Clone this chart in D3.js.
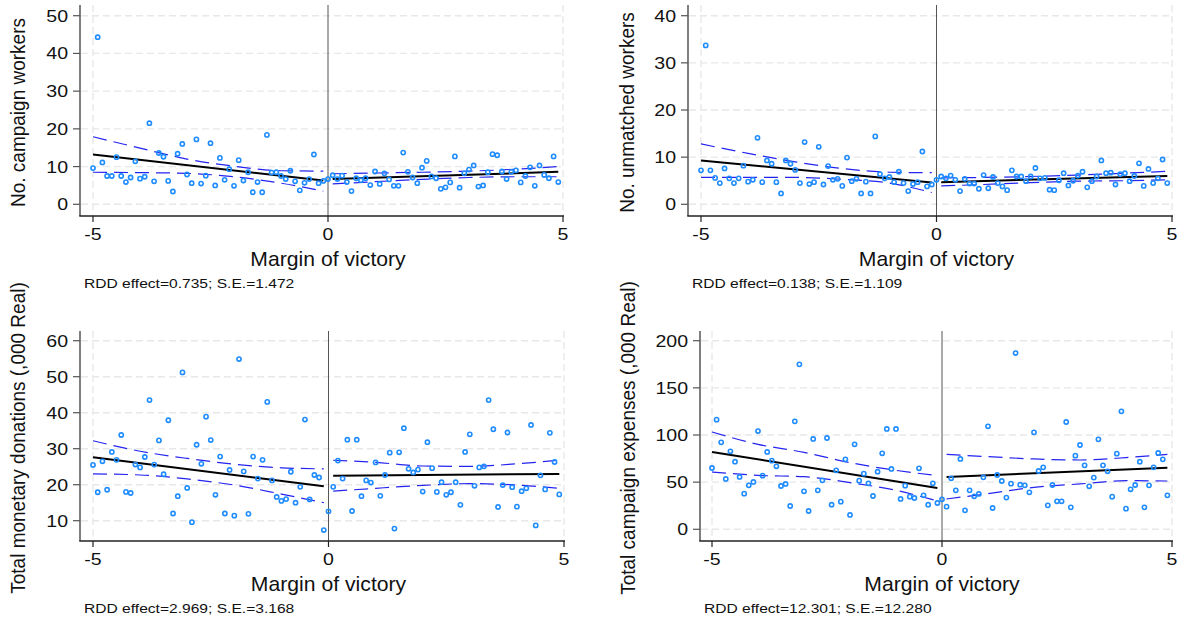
<!DOCTYPE html>
<html lang="en">
<head>
<meta charset="UTF-8">
<title>RDD panels</title>
<script src="https://d3js.org/d3.v7.min.js"></script>
<style>
  html, body { margin: 0; padding: 0; background: #fff; }
  svg { display: block; font-family: 'Liberation Sans', Arial, sans-serif; }
</style>
</head>
<body>
<svg id="chart" width="1177" height="622"></svg>
<script>
// bin midpoints of margin of victory
const xBins = [
  -5.0, -4.9, -4.8, -4.7, -4.6, -4.5, -4.4, -4.3, -4.2, -4.1,
  -4.0, -3.9, -3.8, -3.7, -3.6, -3.5, -3.4, -3.3, -3.2, -3.1,
  -3.0, -2.9, -2.8, -2.7, -2.6, -2.5, -2.4, -2.3, -2.2, -2.1,
  -2.0, -1.9, -1.8, -1.7, -1.6, -1.5, -1.4, -1.3, -1.2, -1.1,
  -1.0, -0.9, -0.8, -0.7, -0.6, -0.5, -0.4, -0.3, -0.2, -0.1,
  0.0, 0.1, 0.2, 0.3, 0.4, 0.5, 0.6, 0.7, 0.8, 0.9,
  1.0, 1.1, 1.2, 1.3, 1.4, 1.5, 1.6, 1.7, 1.8, 1.9,
  2.0, 2.1, 2.2, 2.3, 2.4, 2.5, 2.6, 2.7, 2.8, 2.9,
  3.0, 3.1, 3.2, 3.3, 3.4, 3.5, 3.6, 3.7, 3.8, 3.9,
  4.0, 4.1, 4.2, 4.3, 4.4, 4.5, 4.6, 4.7, 4.8, 4.9
];
const xTicks = [-5, 0, 5];

// bin means
const workersY = [
  9.6, 44.3, 11.1, 7.5, 7.5, 12.5, 7.5, 5.9, 7.1, 11.4, 6.8, 7.3, 21.5, 6.1, 13.6, 12.6, 6.2, 3.4, 13.4, 16.0,
  7.9, 5.6, 17.2, 5.5, 7.6, 16.2, 5.0, 12.3, 6.5, 9.3, 4.9, 11.7, 6.3, 8.5, 3.2, 5.9, 3.2, 18.4, 8.4, 8.5,
  7.5, 6.7, 8.9, 6.1, 3.7, 5.7, 6.7, 13.2, 5.6, 6.2,
  6.7, 7.7, 6.7, 7.6, 5.9, 3.5, 6.9, 6.4, 6.9, 5.1, 8.7, 5.4, 8.2, 6.6, 4.9, 4.9, 13.7, 8.6, 7.1, 5.6,
  9.7, 11.5, 7.4, 6.9, 4.1, 4.5, 5.8, 12.7, 4.4, 8.2, 9.2, 10.3, 4.7, 5.0, 8.5, 13.3, 13.0, 8.7, 6.7, 8.6,
  9.0, 5.8, 7.5, 9.8, 4.9, 10.3, 7.8, 6.9, 12.7, 5.9
];
const unmatchedY = [
  7.2, 33.7, 7.2, 5.6, 4.5, 7.6, 5.5, 4.5, 5.5, 8.2, 4.8, 5.2, 14.1, 4.7, 9.3, 8.6, 4.7, 2.3, 9.3, 8.6,
  7.3, 4.5, 13.2, 4.3, 4.7, 12.2, 4.2, 8.1, 5.2, 5.4, 3.9, 9.9, 4.9, 5.4, 2.3, 4.8, 2.3, 14.4, 6.4, 5.5,
  5.8, 4.7, 6.9, 4.5, 2.8, 4.3, 4.7, 11.2, 3.8, 4.2,
  5.2, 5.9, 5.5, 6.1, 5.2, 2.8, 5.4, 4.4, 4.4, 3.3, 6.2, 3.4, 5.8, 4.5, 3.8, 3.0, 7.2, 5.9, 5.9, 4.9,
  5.9, 7.7, 5.5, 5.6, 3.1, 3.0, 5.1, 6.6, 4.0, 5.0, 6.1, 6.9, 3.6, 4.9, 5.9, 9.3, 6.6, 6.7, 4.2, 6.4,
  6.6, 4.9, 6.0, 8.7, 3.9, 7.5, 4.5, 5.5, 9.5, 4.5
];
const donationsY = [
  25.5, 17.9, 26.5, 18.6, 29.1, 26.9, 33.8, 18.0, 17.7, 25.6, 24.8, 27.7, 43.5, 25.6, 32.3, 22.9, 37.9, 12.0, 16.8, 51.2,
  19.1, 9.6, 31.1, 25.8, 38.9, 32.4, 17.2, 27.8, 12.0, 24.1, 11.4, 54.9, 23.7, 11.9, 27.8, 21.7, 26.9, 43.0, 21.2, 16.6,
  15.5, 16.0, 23.6, 15.0, 19.4, 38.1, 15.9, 22.7, 22.0, 7.4,
  12.6, 19.4, 26.7, 21.7, 32.5, 12.7, 32.5, 16.8, 21.2, 20.6, 26.2, 16.9, 22.7, 28.9, 7.8, 29.0, 35.7, 24.4, 23.4, 24.2,
  18.1, 31.8, 24.6, 18.0, 20.7, 17.2, 17.9, 20.7, 14.4, 29.1, 34.0, 19.7, 24.8, 25.1, 43.5, 35.4, 13.8, 19.9, 34.5, 19.3,
  13.9, 18.2, 19.0, 36.6, 8.7, 22.6, 18.7, 34.4, 26.3, 17.3
];
const expensesY = [
  65.0, 116.3, 92.2, 53.4, 82.7, 71.7, 55.5, 37.8, 46.6, 50.2, 104.2, 56.9, 82.0, 72.8, 66.8, 45.9, 48.1, 24.7, 114.5, 174.9,
  40.3, 19.4, 95.8, 41.3, 51.9, 96.8, 26.1, 62.5, 29.3, 74.2, 15.2, 90.1, 51.6, 59.0, 48.8, 35.3, 61.1, 80.6, 106.4, 64.0,
  106.4, 32.2, 46.3, 34.6, 33.2, 64.7, 36.0, 26.1, 48.8, 27.9,
  31.8, 24.0, 54.1, 41.3, 74.6, 20.1, 41.3, 35.0, 37.5, 55.1, 109.2, 22.6, 57.6, 51.2, 33.6, 48.4, 186.9, 47.3, 46.6, 39.2,
  102.8, 61.8, 65.7, 25.4, 47.0, 29.7, 29.7, 113.8, 23.3, 78.1, 89.4, 67.8, 45.6, 54.8, 95.4, 67.8, 61.5, 34.6, 80.2, 125.1,
  21.9, 42.4, 47.0, 71.7, 23.3, 46.6, 65.7, 80.9, 74.2, 36.0
];

// linear fits and 95% CI, each side of the cutoff
const fitXLeft = [-5, -0.1];
const fitXRight = [0.1, 4.9];
const ciXLeft = [-5, -4, -3, -2, -1, -0.1];
const ciXRight = [0.1, 1, 2, 3, 4, 4.9];

const workersFitL = [13.2, 6.3];
const workersFitR = [6.7, 8.6];
const workersUpL = [17.9, 14.9, 12.0, 10.1, 8.9, 8.8];
const workersLoL = [8.5, 8.4, 8.2, 7.3, 5.6, 3.5];
const workersUpR = [8.1, 8.3, 8.5, 8.8, 9.3, 10.0];
const workersLoR = [5.4, 6.0, 6.6, 7.1, 7.3, 7.3];

const unmatchedFitL = [9.3, 4.6];
const unmatchedFitR = [4.7, 6.0];
const unmatchedUpL = [12.8, 10.8, 9.0, 7.6, 6.8, 6.7];
const unmatchedLoL = [5.7, 5.7, 5.7, 5.3, 4.5, 2.5];
const unmatchedUpR = [5.6, 5.7, 5.9, 6.2, 6.6, 7.0];
const unmatchedLoR = [3.9, 4.2, 4.6, 4.9, 5.0, 5.2];

const donationsFitL = [27.6, 19.6];
const donationsFitR = [22.5, 23.0];
const donationsUpL = [32.2, 29.3, 27.3, 25.7, 24.7, 24.4];
const donationsLoL = [23.0, 22.7, 21.6, 19.9, 17.4, 15.0];
const donationsUpR = [26.8, 26.2, 25.2, 25.1, 25.8, 26.8];
const donationsLoR = [18.2, 19.0, 19.8, 20.3, 19.9, 19.0];

const expensesFitL = [82.0, 43.8];
const expensesFitR = [55.5, 65.4];
const expensesUpL = [103.2, 90.1, 81.6, 70.7, 62.5, 56.9];
const expensesLoL = [60.8, 57.2, 55.8, 49.5, 41.3, 30.0];
const expensesUpR = [79.5, 77.0, 74.6, 73.5, 76.0, 79.5];
const expensesLoR = [32.2, 37.8, 44.5, 48.1, 51.6, 51.2];

const workersTicks = [0, 10, 20, 30, 40, 50];
const unmatchedTicks = [0, 10, 20, 30, 40];
const donationsTicks = [10, 20, 30, 40, 50, 60];
const expensesTicks = [0, 50, 100, 150, 200];

const titles = ["No. campaign workers", "No. unmatched workers",
                "Total monetary donations (,000 Real)", "Total campaign expenses (,000 Real)"];
const notes = ["RDD effect=0.735; S.E.=1.472", "RDD effect=0.138; S.E.=1.109",
               "RDD effect=2.969; S.E.=3.168", "RDD effect=12.301; S.E.=12.280"];

const panels = [
  { y: workersY, ticks: workersTicks, fitL: workersFitL, fitR: workersFitR,
    upL: workersUpL, loL: workersLoL, upR: workersUpR, loR: workersLoR,
    axisX: 80, px: [93, 563], top: 5, bottom: 216, py: [204.3, 15.7], titleOff: 55 },
  { y: unmatchedY, ticks: unmatchedTicks, fitL: unmatchedFitL, fitR: unmatchedFitR,
    upL: unmatchedUpL, loL: unmatchedLoL, upR: unmatchedUpR, loR: unmatchedLoR,
    axisX: 688, px: [701, 1172], top: 5, bottom: 216, py: [204.3, 15.7], titleOff: 54 },
  { y: donationsY, ticks: donationsTicks, fitL: donationsFitL, fitR: donationsFitR,
    upL: donationsUpL, loL: donationsLoL, upR: donationsUpR, loR: donationsLoR,
    axisX: 80, px: [93, 564], top: 331, bottom: 541, py: [520.7, 340.7], titleOff: 55 },
  { y: expensesY, ticks: expensesTicks, fitL: expensesFitL, fitR: expensesFitR,
    upL: expensesUpL, loL: expensesLoL, upR: expensesUpR, loR: expensesLoR,
    axisX: 700, px: [712, 1172], top: 331, bottom: 541, py: [529.3, 340.7], titleOff: 65 }
];

const svg = d3.select("#chart");

function label(g, x, y, txt, size, sx, anchor) {
  return g.append("text")
    .attr("transform", `translate(${x},${y}) scale(${sx},1)`)
    .attr("text-anchor", anchor)
    .style("font-size", size + "px")
    .attr("fill", "#111")
    .text(txt);
}

panels.forEach((p, i) => {
  const g = svg.append("g");
  const x = d3.scaleLinear().domain([-5, 5]).range(p.px);
  const yExt = d3.extent(p.ticks);
  const y = d3.scaleLinear().domain(yExt).range(p.py);
  const right = p.px[1] + 1;

  // grid
  g.selectAll(".hgrid").data(p.ticks).join("line")
    .attr("x1", p.axisX + 1).attr("x2", right)
    .attr("y1", d => y(d)).attr("y2", d => y(d))
    .attr("stroke", "#e8e8e8").attr("stroke-width", 1.4).attr("stroke-dasharray", "7,4");
  g.selectAll(".vgrid").data(xTicks.filter(d => d !== 0)).join("line")
    .attr("x1", d => x(d)).attr("x2", d => x(d))
    .attr("y1", p.top).attr("y2", p.bottom)
    .attr("stroke", "#e8e8e8").attr("stroke-width", 1.4).attr("stroke-dasharray", "7,4");

  // cutoff
  g.append("line").attr("x1", x(0)).attr("x2", x(0)).attr("y1", p.top).attr("y2", p.bottom)
    .attr("stroke", "#555").attr("stroke-width", 1);

  // CI bands
  const ci = d3.line().x(d => x(d[0])).y(d => y(d[1])).curve(d3.curveMonotoneX);
  [[ciXLeft, p.upL], [ciXLeft, p.loL], [ciXRight, p.upR], [ciXRight, p.loR]].forEach(([xs, ys]) => {
    g.append("path").attr("d", ci(xs.map((v, k) => [v, ys[k]])))
      .attr("fill", "none").attr("stroke", "#2424f0").attr("stroke-width", 1.2)
      .attr("stroke-dasharray", "14,7");
  });

  // fitted lines
  const fl = d3.line().x(d => x(d[0])).y(d => y(d[1]));
  [[fitXLeft, p.fitL], [fitXRight, p.fitR]].forEach(([xs, ys]) => {
    g.append("path").attr("d", fl(xs.map((v, k) => [v, ys[k]])))
      .attr("fill", "none").attr("stroke", "#000").attr("stroke-width", 2);
  });

  // bin means
  g.selectAll(".pt").data(xBins.map((v, k) => [v, p.y[k]])).join("circle")
    .attr("cx", d => x(d[0])).attr("cy", d => y(d[1])).attr("r", 2.1)
    .attr("fill", "none").attr("stroke", "#1e8cff").attr("stroke-width", 1.6);

  // axes
  g.append("line").attr("x1", p.axisX).attr("x2", p.axisX).attr("y1", p.top).attr("y2", p.bottom)
    .attr("stroke", "#555").attr("stroke-width", 1.5);
  g.append("line").attr("x1", p.axisX - 0.75).attr("x2", right).attr("y1", p.bottom).attr("y2", p.bottom)
    .attr("stroke", "#222").attr("stroke-width", 1.5);

  g.selectAll(".yt").data(p.ticks).join("line")
    .attr("x1", p.axisX - 7).attr("x2", p.axisX).attr("y1", d => y(d)).attr("y2", d => y(d))
    .attr("stroke", "#555").attr("stroke-width", 1.2);
  p.ticks.forEach(t => label(g, p.axisX - 12, y(t) + 6, String(t), 17, 1.15, "end"));

  g.selectAll(".xt").data(xTicks).join("line")
    .attr("x1", d => x(d)).attr("x2", d => x(d)).attr("y1", p.bottom).attr("y2", p.bottom + 6)
    .attr("stroke", "#222").attr("stroke-width", 1.2);
  xTicks.forEach(t => label(g, x(t), p.bottom + 24, String(t), 17, 1.15, "middle"));

  label(g, x(0), p.bottom + 50, "Margin of victory", 20, 1.06, "middle");
  label(g, p.axisX + 4, p.bottom + 72, notes[i], 13, 1.2, "start");

  g.append("text")
    .attr("transform", `translate(${p.axisX - p.titleOff},${(p.top + p.bottom) / 2 + 2}) scale(1.1,1) rotate(-90)`)
    .attr("text-anchor", "middle")
    .style("font-size", "19px")
    .attr("fill", "#111")
    .text(titles[i]);
});
</script>
</body>
</html>
